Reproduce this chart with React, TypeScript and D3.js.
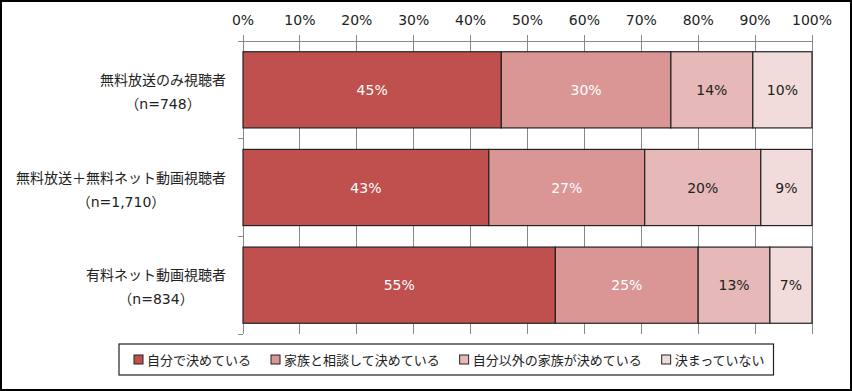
import React, { useEffect, useRef } from "react";
import * as d3 from "d3";

// categories (two-line labels)
const categories = ["無料放送のみ視聴者", "無料放送＋無料ネット動画視聴者", "有料ネット動画視聴者"];
const sampleSizes = ["（n=748）", "（n=1,710）", "（n=834）"];

// series
const seriesNames = ["自分で決めている", "家族と相談して決めている", "自分以外の家族が決めている", "決まっていない"];
const selfDecides = [45.4, 43.2, 54.9];
const withFamily = [29.8, 27.4, 25.1];
const familyDecides = [14.4, 20.4, 12.6];
const undecided = [10.4, 9.0, 7.4];

const xTicks = [0, 10, 20, 30, 40, 50, 60, 70, 80, 90, 100];

const COLORS = ["#C0504D", "#D99694", "#E6B9B8", "#F2DCDB"];
const LABEL_COLORS = ["#ffffff", "#ffffff", "#222222", "#222222"];

const W = 852;
const H = 391;
const MARGIN = { top: 41, right: 40, bottom: 57, left: 243 };
const NUM_FONT = '"DejaVu Sans", "Noto Sans CJK JP", sans-serif';
const JP_FONT = '"Noto Sans CJK JP", "DejaVu Sans", sans-serif';

function drawChart(svgEl: SVGSVGElement) {
  const svg = d3.select(svgEl);
  svg.selectAll("*").remove();

  const series = [selfDecides, withFamily, familyDecides, undecided];
  const rows = categories.map((c, i) => {
    const row: any = { cat: c };
    seriesNames.forEach((s, j) => (row[s] = series[j][i]));
    return row;
  });
  const stacked = d3.stack().keys(seriesNames)(rows);

  const x = d3.scaleLinear().domain([0, 100]).range([MARGIN.left, W - MARGIN.right]);
  const y = d3
    .scaleBand()
    .domain(categories)
    .range([MARGIN.top, H - MARGIN.bottom])
    .paddingInner(0.22)
    .paddingOuter(0.11);

  // outer frame
  svg.append("rect")
    .attr("x", 1).attr("y", 1)
    .attr("width", W - 2).attr("height", H - 2)
    .attr("fill", "#fff")
    .attr("stroke", "#000")
    .attr("stroke-width", 2);

  // gridlines (with ticks above the axis line)
  svg.append("g")
    .selectAll("line")
    .data(xTicks)
    .join("line")
    .attr("x1", (d) => x(d)).attr("x2", (d) => x(d))
    .attr("y1", MARGIN.top - 6)
    .attr("y2", H - MARGIN.bottom)
    .attr("stroke", "#888")
    .attr("stroke-width", 1)
    .attr("shape-rendering", "crispEdges");

  // top axis line
  svg.append("line")
    .attr("x1", x(0)).attr("x2", x(100))
    .attr("y1", MARGIN.top).attr("y2", MARGIN.top)
    .attr("stroke", "#888")
    .attr("shape-rendering", "crispEdges");

  // left category axis + ticks at band boundaries
  const yTop = MARGIN.top;
  const yBot = H - MARGIN.bottom;
  svg.append("line")
    .attr("x1", x(0)).attr("x2", x(0))
    .attr("y1", yTop).attr("y2", yBot)
    .attr("stroke", "#888")
    .attr("shape-rendering", "crispEdges");
  const step = (yBot - yTop) / categories.length;
  svg.append("g")
    .selectAll("line")
    .data(d3.range(categories.length + 1))
    .join("line")
    .attr("x1", x(0) - 5).attr("x2", x(0))
    .attr("y1", (i) => yTop + i * step)
    .attr("y2", (i) => yTop + i * step)
    .attr("stroke", "#888")
    .attr("shape-rendering", "crispEdges");

  // tick labels
  svg.append("g")
    .selectAll("text")
    .data(xTicks)
    .join("text")
    .attr("x", (d) => x(d))
    .attr("y", 25)
    .attr("text-anchor", "middle")
    .attr("font-family", NUM_FONT)
    .attr("font-size", 14)
    .attr("fill", "#222")
    .text((d) => d + "%");

  // bars
  const layers = svg.append("g")
    .selectAll("g")
    .data(stacked)
    .join("g")
    .attr("fill", (_, i) => COLORS[i]);

  layers.selectAll("rect")
    .data((d) => d)
    .join("rect")
    .attr("x", (d) => x(d[0]))
    .attr("y", (d: any) => y(d.data.cat)!)
    .attr("width", (d) => x(d[1]) - x(d[0]))
    .attr("height", y.bandwidth())
    .attr("stroke", "#222")
    .attr("stroke-width", 1.2);

  // value labels
  stacked.forEach((layer, i) => {
    svg.append("g")
      .selectAll("text")
      .data(layer)
      .join("text")
      .attr("x", (d) => (x(d[0]) + x(d[1])) / 2)
      .attr("y", (d: any) => y(d.data.cat)! + y.bandwidth() / 2 + 5)
      .attr("text-anchor", "middle")
      .attr("font-family", NUM_FONT)
      .attr("font-size", 14)
      .attr("fill", LABEL_COLORS[i])
      .text((d) => Math.round(d[1] - d[0]) + "%");
  });

  // category labels: block right-aligned, lines centered within block
  const labelRight = 226;
  categories.forEach((c, i) => {
    const cy = y(c)! + y.bandwidth() / 2;
    const g = svg.append("g");
    const t1 = g.append("text")
      .attr("y", cy - 5)
      .attr("text-anchor", "middle")
      .attr("font-family", JP_FONT)
      .attr("font-size", 14)
      .attr("fill", "#222")
      .text(c);
    const t2 = g.append("text")
      .attr("y", cy + 19)
      .attr("text-anchor", "middle")
      .attr("font-family", NUM_FONT)
      .attr("font-size", 14)
      .attr("fill", "#222")
      .text(sampleSizes[i]);
    const w = Math.max(
      (t1.node() as SVGTextElement).getComputedTextLength(),
      (t2.node() as SVGTextElement).getComputedTextLength()
    );
    t1.attr("x", labelRight - w / 2);
    t2.attr("x", labelRight - w / 2);
  });

  // legend
  const legend = svg.append("g");
  const lgY = 360;
  const legendBox = legend.append("rect")
    .attr("y", 344)
    .attr("height", 31)
    .attr("fill", "#fff")
    .attr("stroke", "#222")
    .attr("stroke-width", 1.2);
  let cx = 134;
  seriesNames.forEach((s, i) => {
    legend.append("rect")
      .attr("x", cx).attr("y", lgY - 5)
      .attr("width", 9).attr("height", 9)
      .attr("fill", COLORS[i])
      .attr("stroke", "#222")
      .attr("stroke-width", 1);
    const t = legend.append("text")
      .attr("x", cx + 13)
      .attr("y", lgY + 5)
      .attr("font-family", JP_FONT)
      .attr("font-size", 13)
      .attr("fill", "#222")
      .text(s);
    cx += 13 + (t.node() as SVGTextElement).getComputedTextLength() + 20;
  });
  legendBox.attr("x", 119).attr("width", cx - 20 + 9 - 119);
}

export default function App() {
  const ref = useRef<SVGSVGElement>(null);
  useEffect(() => {
    if (ref.current) drawChart(ref.current);
  }, []);
  return (
    <svg
      ref={ref}
      width={W}
      height={H}
      style={{ position: "absolute", left: 0, top: 0, background: "#fff" }}
    />
  );
}
